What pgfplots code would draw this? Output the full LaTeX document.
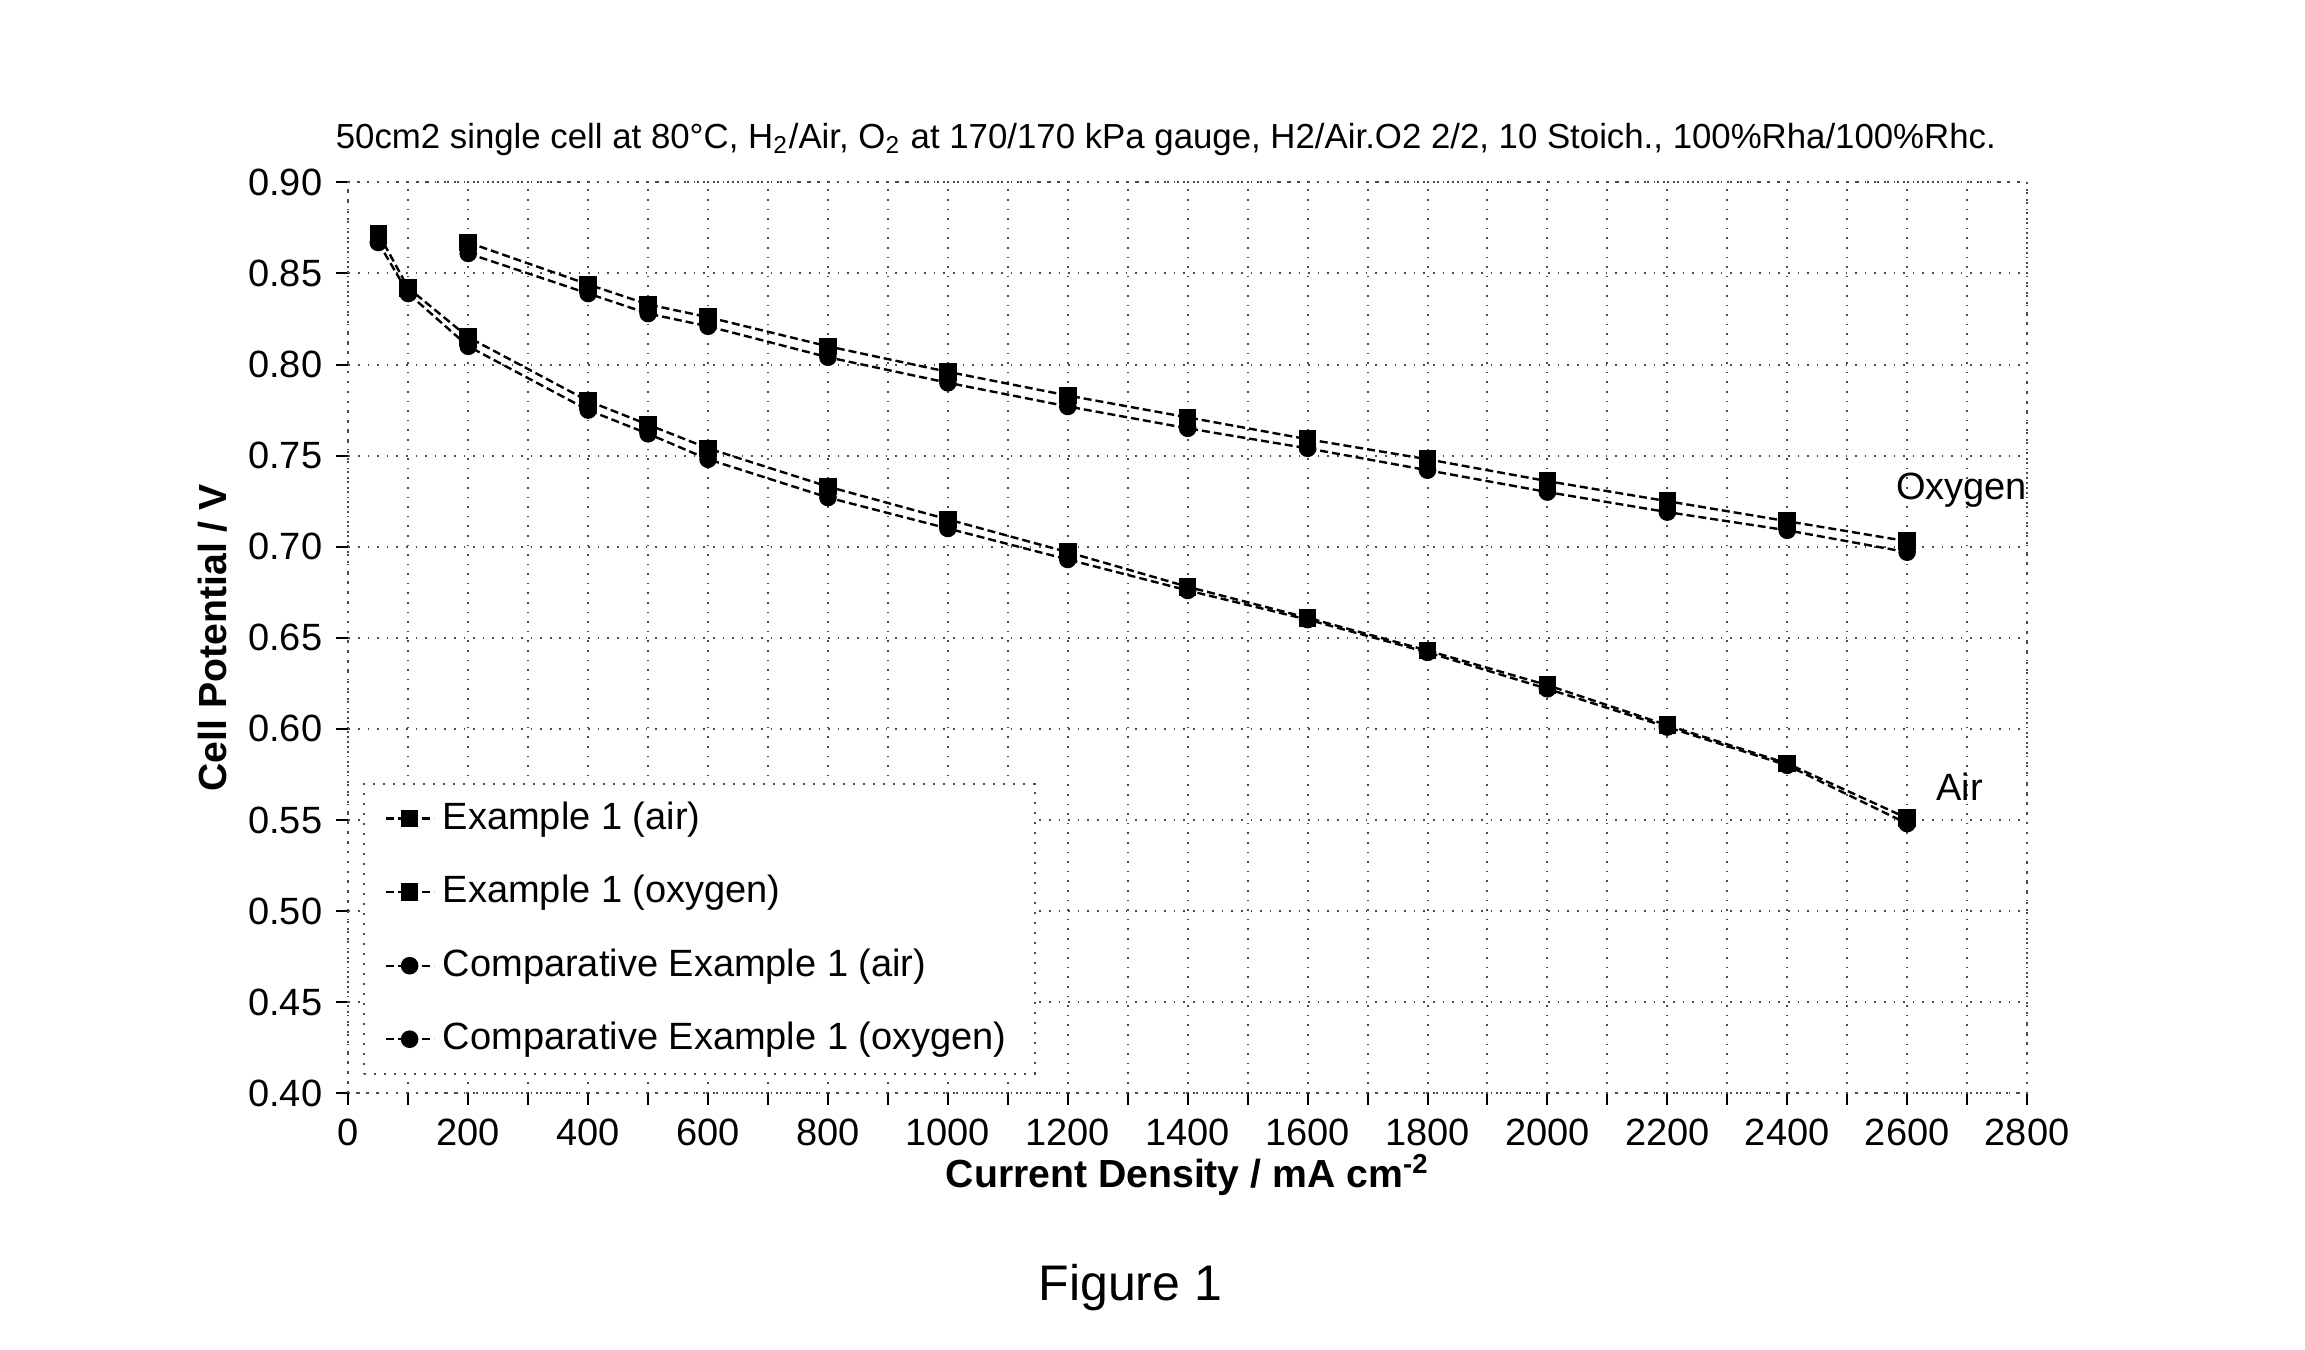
\documentclass[border=0pt]{standalone}
\usepackage{pgfplots}
\pgfplotsset{compat=1.18}
\usepackage{pgfplotstable}
\usepackage{fontspec}
\setmainfont{Liberation Sans}
\setsansfont{Liberation Sans}

% Polarisation data: current density (mA/cm2) vs cell potential (V)
\pgfplotstableread{
j     v
50    0.872
100   0.842
200   0.815
400   0.780
500   0.767
600   0.754
800   0.733
1000  0.715
1200  0.697
1400  0.678
1600  0.661
1800  0.643
2000  0.624
2200  0.602
2400  0.581
2600  0.551
}\exair
\pgfplotstableread{
j     v
200   0.867
400   0.844
500   0.833
600   0.826
800   0.810
1000  0.796
1200  0.783
1400  0.771
1600  0.759
1800  0.748
2000  0.736
2200  0.725
2400  0.714
2600  0.703
}\exoxy
\pgfplotstableread{
j     v
50    0.867
100   0.839
200   0.810
400   0.775
500   0.762
600   0.748
800   0.727
1000  0.710
1200  0.693
1400  0.676
1600  0.660
1800  0.642
2000  0.622
2200  0.601
2400  0.580
2600  0.548
}\cmpair
\pgfplotstableread{
j     v
200   0.861
400   0.839
500   0.828
600   0.821
800   0.804
1000  0.790
1200  0.777
1400  0.765
1600  0.754
1800  0.742
2000  0.730
2200  0.719
2400  0.709
2600  0.697
}\cmpoxy

\begin{document}
\begin{tikzpicture}
\useasboundingbox (-87.1pt,-64.1pt) rectangle (489.25pt,273.35pt);
\begin{axis}[
  scale only axis,
  clip mode=individual,
  width=419.75pt, height=227.75pt,
  xmin=0, xmax=2800, ymin=0.40, ymax=0.90,
  xtick={0,200,...,2800},
  minor xtick={100,300,...,2700},
  ytick={0.40,0.45,0.50,0.55,0.60,0.65,0.70,0.75,0.80,0.85,0.90},
  tick pos=left,
  grid=both,
  major grid style={black!70, dotted, line width=0.5pt},
  minor grid style={black!70, dotted, line width=0.5pt},
  axis line style={black!70, dotted, line width=0.5pt},
  tick style={black, solid, line width=0.5pt},
  tick align=outside,
  major tick length=3pt, minor tick length=3pt,
  /pgf/number format/assume math mode=true,
  ticklabel style={font=\fontsize{9.5}{11}\selectfont},
  xticklabel style={/pgf/number format/1000 sep={}},
  yticklabel style={/pgf/number format/.cd, fixed, fixed zerofill, precision=2},
  xlabel={\bfseries Current Density / mA cm\textsuperscript{-2}},
  ylabel={\bfseries Cell Potential / V},
  label style={font=\fontsize{9.8}{12}\selectfont},
  xlabel style={at={(axis description cs:0.5,-0.09)}, anchor=center},
  ylabel style={at={(axis description cs:-0.081,0.5)}, anchor=center},
  legend style={at={(axis description cs:0.009,0.02)}, anchor=south west,
    draw=black!70, dotted, line width=0.5pt, fill=white,
    font=\fontsize{9.5}{11}\selectfont, row sep=6pt,
    inner xsep=5pt, inner ysep=2.5pt},
  legend cell align=left,
  legend image code/.code={
    \draw[#1] (0pt,0pt) -- (12pt,0pt);
    \draw[#1, only marks] plot coordinates {(6pt,0pt)};
  },
  every axis plot/.append style={black, line width=0.6pt,
    dash pattern=on 2pt off 1pt,
    mark options={solid, fill=black}, mark size=1.9pt},
]
\addplot[mark=square*] table[x=j, y=v] {\exair};
\addlegendentry{Example 1 (air)}
\addplot[mark=square*] table[x=j, y=v] {\exoxy};
\addlegendentry{Example 1 (oxygen)}
\addplot[mark=*] table[x=j, y=v] {\cmpair};
\addlegendentry{Comparative Example 1 (air)}
\addplot[mark=*] table[x=j, y=v] {\cmpoxy};
\addlegendentry{Comparative Example 1 (oxygen)}

\node[font=\fontsize{9.5}{11}\selectfont, anchor=west] at (axis cs:2558,0.731) {Oxygen};
\node[font=\fontsize{9.5}{11}\selectfont, anchor=west] at (axis cs:2625,0.568) {Air};
\node[font=\fontsize{8.7}{11}\selectfont] at (axis description cs:0.487,1.047)
  {50cm2 single cell at 80°C, H\textsubscript{2}/Air, O\textsubscript{2} at 170/170 kPa gauge, H2/Air.O2 2/2, 10 Stoich., 100\%Rha/100\%Rhc.};
\node[font=\fontsize{12.5}{15}\selectfont] at (axis description cs:0.4658,-0.213) {Figure 1};
\end{axis}
\end{tikzpicture}
\end{document}
